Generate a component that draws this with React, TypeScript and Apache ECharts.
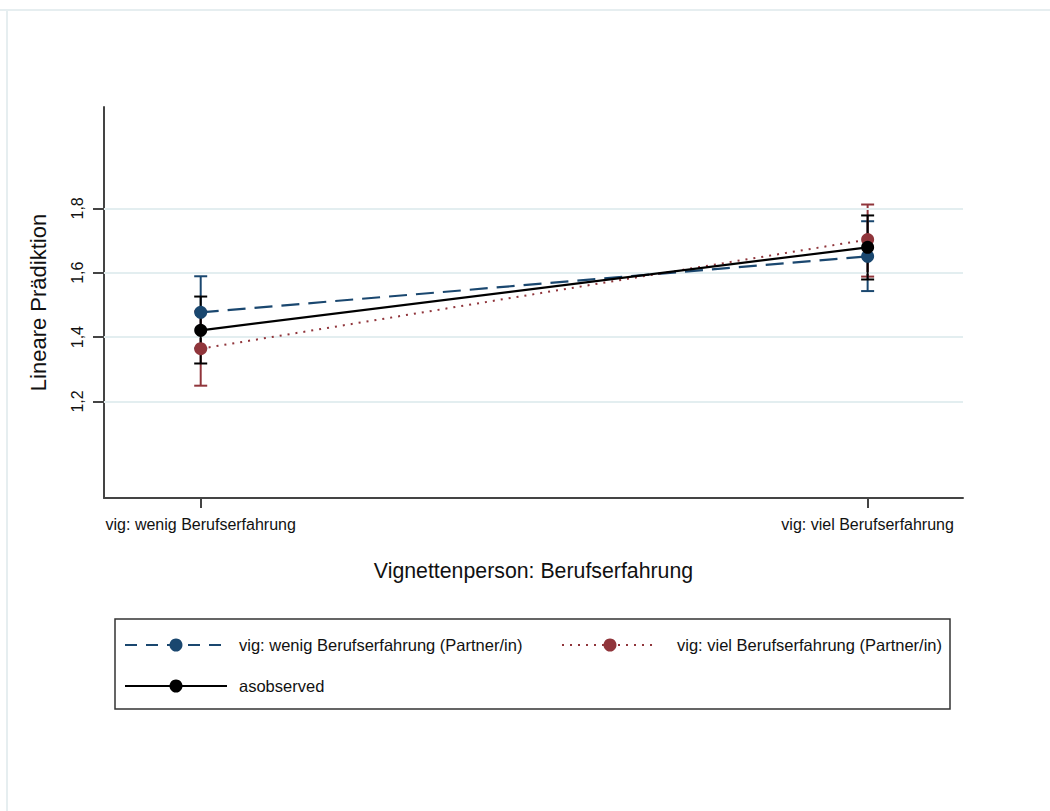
import React, { useEffect, useRef } from "react";
import * as echarts from "echarts";

const categories = ["vig: wenig Berufserfahrung", "vig: viel Berufserfahrung"];
const xPositions = [1, 2];
const yTicks = [1.2, 1.4, 1.6, 1.8];

const seriesNames = [
  "vig: wenig Berufserfahrung (Partner/in)",
  "vig: viel Berufserfahrung (Partner/in)",
  "asobserved",
];
const wenigMean = [1.477, 1.651];
const wenigLow = [1.365, 1.543];
const wenigHigh = [1.589, 1.76];
const vielMean = [1.364, 1.703];
const vielLow = [1.249, 1.588];
const vielHigh = [1.48, 1.812];
const obsMean = [1.421, 1.679];
const obsLow = [1.318, 1.579];
const obsHigh = [1.526, 1.778];

const BLUE = "#1a476f";
const RED = "#90353b";
const BLACK = "#000000";
const FONT = "Liberation Sans";

function errorBars(name: string, color: string, low: number[], high: number[], z: number) {
  return {
    type: "custom",
    name: name + " CI",
    z,
    silent: true,
    data: xPositions.map((x, i) => [x, low[i], high[i]]),
    renderItem: (params: any, api: any) => {
      const x = api.value(0);
      const lo = api.coord([x, api.value(1)]);
      const hi = api.coord([x, api.value(2)]);
      const hw = 6.5;
      const st = { stroke: color, lineWidth: 2 };
      return {
        type: "group",
        children: [
          { type: "line", shape: { x1: lo[0], y1: lo[1], x2: hi[0], y2: hi[1] }, style: st },
          { type: "line", shape: { x1: lo[0] - hw, y1: lo[1], x2: lo[0] + hw, y2: lo[1] }, style: st },
          { type: "line", shape: { x1: hi[0] - hw, y1: hi[1], x2: hi[0] + hw, y2: hi[1] }, style: st },
        ],
      };
    },
  };
}

function lineSeries(name: string, color: string, values: number[], dash: any, z: number, width: number) {
  return {
    type: "line",
    name,
    z,
    data: xPositions.map((x, i) => [x, values[i]]),
    symbol: "circle",
    symbolSize: 13,
    itemStyle: { color },
    lineStyle: { color, width, type: dash },
  };
}

export default function App() {
  const ref = useRef<HTMLDivElement>(null);
  useEffect(() => {
    const chart = echarts.init(ref.current!, null, { renderer: "svg" });
    const legendText = { fontFamily: FONT, fontSize: 16.5, fill: "#111" };
    chart.setOption({
      animation: false,
      backgroundColor: "#ffffff",
      grid: { left: 104, top: 107, right: 87, bottom: 313 },
      xAxis: {
        type: "value",
        min: 0.855,
        max: 2.143,
        name: "Vignettenperson: Berufserfahrung",
        nameLocation: "middle",
        nameGap: 62,
        nameTextStyle: { fontFamily: FONT, fontSize: 21.3, color: "#111" },
        axisLine: { show: true, lineStyle: { color: "#444", width: 2 } },
        axisTick: { show: true, length: 10, customValues: xPositions, lineStyle: { color: "#444", width: 2 } },
        axisLabel: {
          customValues: xPositions,
          margin: 18,
          fontFamily: FONT,
          fontSize: 16,
          color: "#111",
          formatter: (v: number) => categories[Math.round(v) - 1] ?? "",
        },
        splitLine: { show: false },
      },
      yAxis: {
        type: "value",
        min: 0.9,
        max: 2.115,
        name: "Lineare Prädiktion",
        nameLocation: "middle",
        nameRotate: 90,
        nameGap: 55,
        nameTextStyle: { fontFamily: FONT, fontSize: 22, color: "#111" },
        axisLine: { show: true, lineStyle: { color: "#444", width: 2 } },
        axisTick: { show: true, length: 11, customValues: yTicks, lineStyle: { color: "#444", width: 2 } },
        axisLabel: {
          customValues: yTicks,
          rotate: 90,
          margin: 19,
          fontFamily: FONT,
          fontSize: 16,
          color: "#111",
          formatter: (v: number) => v.toFixed(1).replace(".", ","),
        },
        splitLine: { show: false },
      },
      series: [
        {
          type: "line",
          name: "grid",
          z: 1,
          data: [],
          silent: true,
          markLine: {
            silent: true,
            symbol: "none",
            label: { show: false },
            lineStyle: { color: "#e3eef0", width: 2, type: "solid" },
            data: yTicks.map((v) => ({ yAxis: v })),
          },
        },
        errorBars(seriesNames[0], BLUE, wenigLow, wenigHigh, 3),
        errorBars(seriesNames[1], RED, vielLow, vielHigh, 4),
        errorBars(seriesNames[2], BLACK, obsLow, obsHigh, 5),
        lineSeries(seriesNames[0], BLUE, wenigMean, [18, 9], 6, 2.2),
        lineSeries(seriesNames[1], RED, vielMean, [2, 6], 7, 2),
        lineSeries(seriesNames[2], BLACK, obsMean, "solid", 8, 2.2),
      ],
      graphic: [
        { type: "rect", shape: { x: 0, y: 9, width: 1050, height: 2 }, style: { fill: "#e6eef0" }, silent: true },
        { type: "rect", shape: { x: 6, y: 9, width: 2, height: 802 }, style: { fill: "#e6eef0" }, silent: true },
        {
          type: "rect",
          shape: { x: 115, y: 619, width: 835, height: 90 },
          style: { fill: "#fff", stroke: "#333", lineWidth: 1.5 },
          silent: true,
        },
        { type: "line", shape: { x1: 125, y1: 645, x2: 227, y2: 645 }, style: { stroke: BLUE, lineWidth: 2.2, lineDash: [12, 9] } },
        { type: "circle", shape: { cx: 176, cy: 645, r: 6.5 }, style: { fill: BLUE } },
        { type: "text", x: 239, y: 645, style: { text: seriesNames[0], verticalAlign: "middle", ...legendText } },
        { type: "line", shape: { x1: 562, y1: 645, x2: 658, y2: 645 }, style: { stroke: RED, lineWidth: 2, lineDash: [2, 6] } },
        { type: "circle", shape: { cx: 610, cy: 645, r: 6.5 }, style: { fill: RED } },
        { type: "text", x: 677, y: 645, style: { text: seriesNames[1], verticalAlign: "middle", ...legendText } },
        { type: "line", shape: { x1: 125, y1: 686, x2: 227, y2: 686 }, style: { stroke: BLACK, lineWidth: 2.2 } },
        { type: "circle", shape: { cx: 176, cy: 686, r: 6.5 }, style: { fill: BLACK } },
        { type: "text", x: 239, y: 686, style: { text: seriesNames[2], verticalAlign: "middle", ...legendText } },
      ],
    });
    return () => chart.dispose();
  }, []);
  return (
    <div
      ref={ref}
      style={{ position: "fixed", left: 0, top: 0, width: 1050, height: 811 }}
    />
  );
}
